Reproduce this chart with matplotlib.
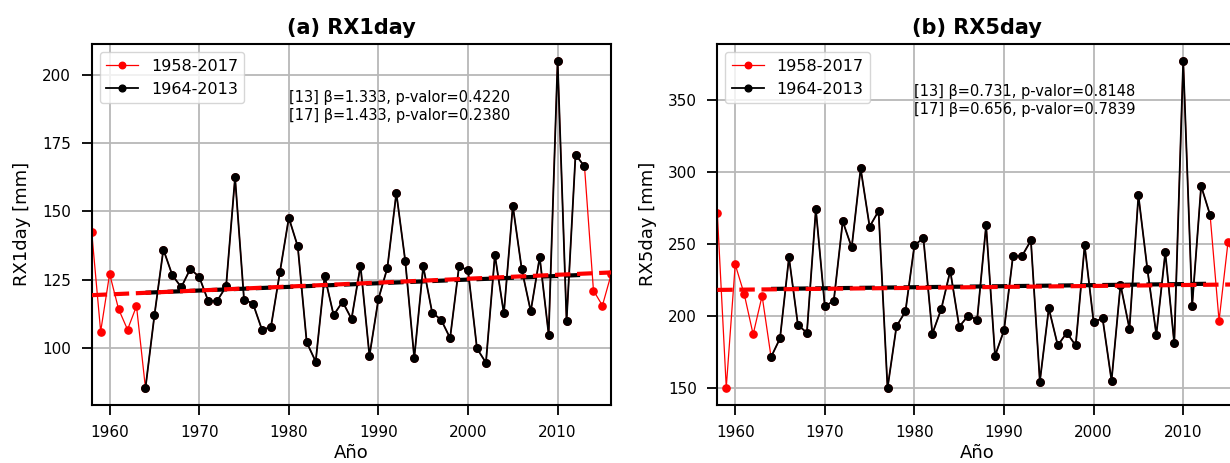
import numpy as np
import matplotlib
matplotlib.use("Agg")
import matplotlib.pyplot as plt
from matplotlib.ticker import MultipleLocator

# ---- data -------------------------------------------------------------
years_long = list(range(1958, 2018))    # 1958-2017
years_short = list(range(1964, 2014))   # 1964-2013

rx1day_long = [
    142.4, 106.0, 127.1, 114.2, 106.7, 115.3,                 # 1958-1963
    85.3, 111.9, 136.0, 126.6, 122.2, 128.9, 126.0, 117.2, 117.2, 122.5,
    162.4, 117.7, 116.2, 106.7, 107.6, 127.6, 147.6, 137.1, 102.0, 95.0,
    126.3, 112.0, 116.9, 110.6, 130.1, 97.1, 117.9, 129.3, 156.7, 131.7,
    96.3, 129.8, 112.9, 110.3, 103.6, 129.9, 128.4, 99.8, 94.6, 134.0,
    112.6, 152.0, 128.7, 113.4, 133.2, 104.9, 205.1, 109.8, 170.7, 166.4,
    121.0, 115.5, 127.2, 131.0,                               # 2014-2017
]

rx5day_long = [
    271.9, 150.2, 235.8, 215.3, 187.2, 214.0,                 # 1958-1963
    171.4, 184.4, 240.7, 193.7, 188.3, 274.2, 206.7, 210.5, 265.8, 247.6,
    302.6, 262.1, 273.0, 149.8, 192.8, 203.2, 249.1, 254.2, 187.6, 204.9,
    231.4, 192.5, 200.2, 197.4, 263.0, 172.3, 190.0, 241.6, 241.6, 252.5,
    154.4, 205.3, 179.5, 188.3, 179.5, 249.1, 195.8, 198.4, 154.9, 221.8,
    191.1, 283.9, 232.5, 187.0, 244.2, 180.9, 377.6, 207.2, 290.4, 270.2,
    196.7, 251.4, 236.0, 222.0,                               # 2014-2017
]

# Sen slopes (per decade), p-values and trend-line start values
beta_rx1 = {"13": 1.333, "17": 1.433}
pval_rx1 = {"13": 0.4220, "17": 0.2380}
start_rx1 = {"13": 120.2, "17": 119.3}

beta_rx5 = {"13": 0.731, "17": 0.656}
pval_rx5 = {"13": 0.8148, "17": 0.7839}
start_rx5 = {"13": 218.8, "17": 218.1}

titles = ["(a) RX1day", "(b) RX5day"]
ylabels = ["RX1day [mm]", "RX5day [mm]"]
xlabel = "Año"
series_labels = ["1958-2017", "1964-2013"]
xticks = [1960, 1970, 1980, 1990, 2000, 2010]
ytick_steps = [25, 50]
xlim = (1958, 2016)

# ---- figure -----------------------------------------------------------
W, H, DPI = 1230, 463, 100
fig = plt.figure(figsize=(W / DPI, H / DPI), dpi=DPI)

ax_w = 0.4225
ax_b = 1 - 404.5 / H
ax_h = (404.5 - 44.2) / H
axes = [fig.add_axes([91.7 / W, ax_b, ax_w, ax_h]),
        fig.add_axes([717.3 / W, ax_b, ax_w, ax_h])]

panels = [
    (rx1day_long, beta_rx1, pval_rx1, start_rx1),
    (rx5day_long, beta_rx5, pval_rx5, start_rx5),
]

yl = np.array(years_long)
ys = np.array(years_short)

for i, (ax, (vals, beta, pval, start)) in enumerate(zip(axes, panels)):
    vals = np.array(vals)
    short_vals = vals[(yl >= ys[0]) & (yl <= ys[-1])]

    ax.grid(True, color="#b8b8b8", lw=1.3, zorder=0)
    ax.set_axisbelow(True)

    ax.plot(yl, vals, "-o", color="red", lw=0.9, ms=5.2,
            label=series_labels[0], zorder=2)
    ax.plot(ys, short_vals, "-o", color="black", lw=1.3, ms=5.4,
            label=series_labels[1], zorder=3)

    # Sen trend lines (slope given per decade)
    trend_short = start["13"] + beta["13"] / 10 * (ys - ys[0])
    trend_long = start["17"] + beta["17"] / 10 * (yl - yl[0])
    ax.plot(ys, trend_short, "--", color="black", lw=3.0, zorder=4)
    ax.plot(yl, trend_long, "--", color="red", lw=3.0, zorder=5)

    ax.set_xlim(*xlim)
    ax.set_xticks(xticks)
    ax.yaxis.set_major_locator(MultipleLocator(ytick_steps[i]))
    ax.tick_params(labelsize=11, length=7.5, width=1.3, pad=7.3)
    for sp in ax.spines.values():
        sp.set_linewidth(1.5)

    ax.set_title(titles[i], fontsize=15, fontweight="bold", pad=7)
    ax.set_xlabel(xlabel, fontsize=13, labelpad=2.5)
    ax.set_ylabel(ylabels[i], fontsize=13, labelpad=8)

    txt = (f"[13] β={beta['13']:.3f}, p-valor={pval['13']:.4f}\n"
           f"[17] β={beta['17']:.3f}, p-valor={pval['17']:.4f}")
    ax.text(1980, [0.827, 0.844][i], txt,
            transform=ax.get_xaxis_transform(),
            fontsize=10.5, va="center", ha="left", linespacing=1.25)

    ax.legend(loc="upper left", fontsize=11.5, handlelength=2.0,
              borderaxespad=0.5, markerscale=0.9)

fig.savefig("out.png", dpi=DPI)
